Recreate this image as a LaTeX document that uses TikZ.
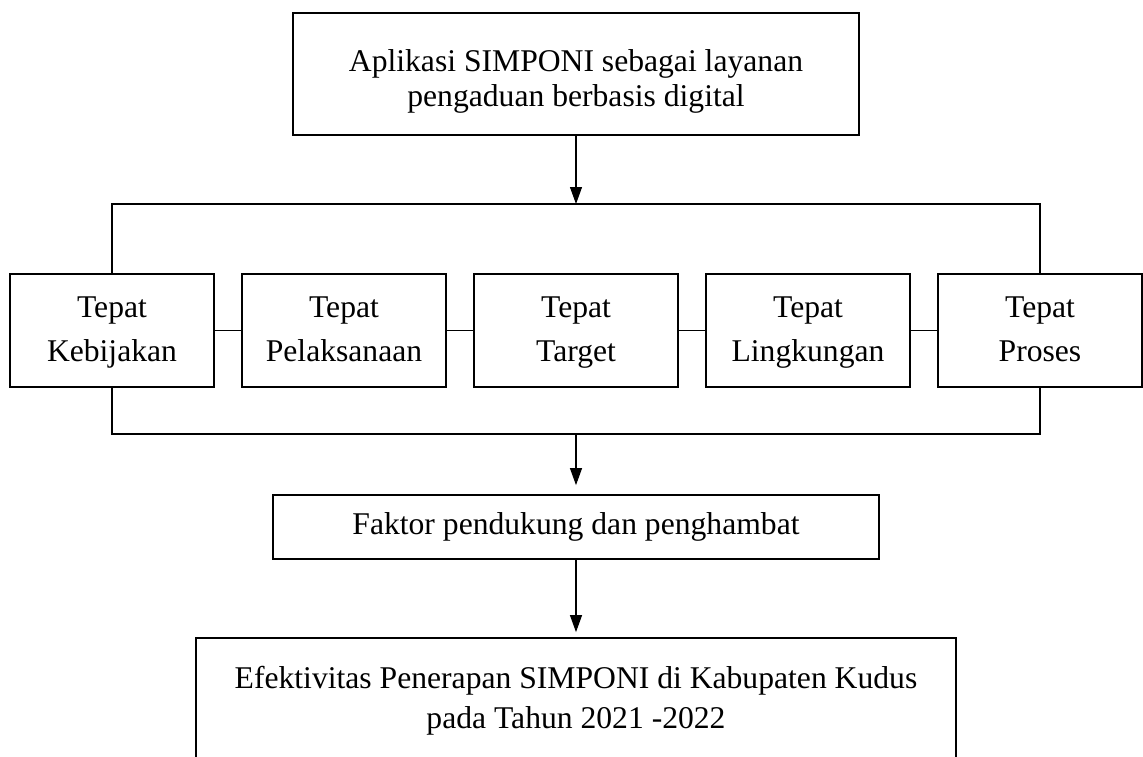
\documentclass[tikz,border=0pt]{standalone}
\usepackage{fontspec}
\setmainfont{Liberation Serif}
\usetikzlibrary{arrows.meta, positioning}

\begin{document}
\begin{tikzpicture}[
        box/.style={draw, line width=1pt, align=center, inner sep=0pt,
            font=\fontsize{18}{21}\selectfont},
        tepat/.style={box, minimum width=4.08cm, minimum height=2.26cm,
            font=\fontsize{18}{25}\selectfont},
        link/.style={line width=0.6pt},
        >={Triangle[width=0.24cm, length=0.34cm]}
    ]
        \useasboundingbox (0,0) rectangle (22.86,-15.12);

        % Top
        \node[box, minimum width=11.32cm, minimum height=2.44cm,
            font=\fontsize{18}{20}\selectfont] (app) at (11.52,-1.48)
            {\rule{0pt}{21pt}Aplikasi SIMPONI sebagai layanan\\pengaduan berbasis digital};

        % Indicators
        \node[tepat] (T1) at (2.24,-6.61) {\rule{0pt}{15pt}Tepat\\Kebijakan\rule[-5pt]{0pt}{0pt}};
        \node[tepat] (T2) at (6.88,-6.61) {\rule{0pt}{15pt}Tepat\\Pelaksanaan\rule[-5pt]{0pt}{0pt}};
        \node[tepat] (T3) at (11.52,-6.61) {\rule{0pt}{15pt}Tepat\\Target\rule[-5pt]{0pt}{0pt}};
        \node[tepat] (T4) at (16.16,-6.61) {\rule{0pt}{15pt}Tepat\\Lingkungan\rule[-5pt]{0pt}{0pt}};
        \node[tepat] (T5) at (20.80,-6.61) {\rule{0pt}{15pt}Tepat\\Proses\rule[-5pt]{0pt}{0pt}};

        % Factors and result
        \node[box, minimum width=12.12cm, minimum height=1.28cm] (faktor) at (11.52,-10.54)
            {Faktor pendukung dan penghambat};
        \node[box, minimum width=15.2cm, minimum height=2.5cm, font=\fontsize{18}{23}\selectfont]
            (efek) at (11.52,-14.01)
            {Efektivitas Penerapan SIMPONI di Kabupaten Kudus\\pada Tahun 2021 -2022};

        \coordinate (barT) at (11.52,-4.08);
        \coordinate (barB) at (11.52,-8.68);

        % Connections
        \draw[link, ->] (app) -- (barT);
        \draw[link] (T1.north) |- (barT) -| (T5.north);
        \foreach \i/\j in {1/2,2/3,3/4,4/5}
            \draw[link] (T\i) -- (T\j);
        \draw[link] (T1.south) |- (barB) -| (T5.south);
        \draw[link, ->, shorten >=0.18cm] (barB) -- (faktor);
        \draw[link, ->, shorten >=0.1cm] (faktor) -- (efek);
    \end{tikzpicture}
\end{document}
